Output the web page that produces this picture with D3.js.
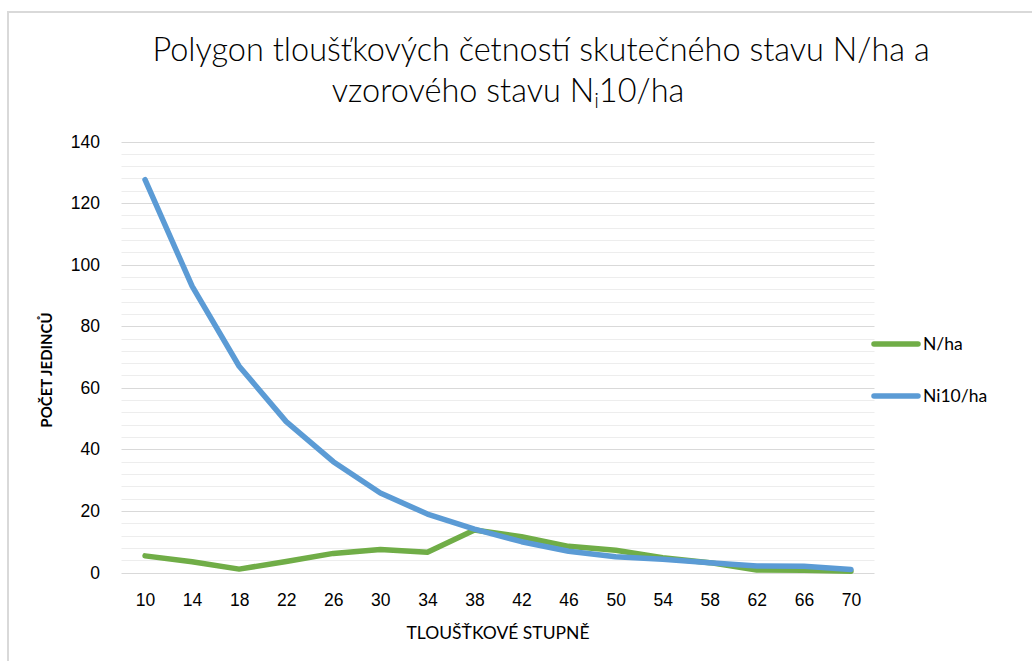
<!DOCTYPE html>
<html>
<head>
<meta charset="utf-8">
<script src="https://cdn.jsdelivr.net/npm/d3@7"></script>
<style>
  body { margin: 0; background: #fff; }
  svg { display: block; font-family: Lato, "Open Sans", sans-serif; }
  .tick text { fill: #000; font-size: 17.5px; }
  .grid-major { stroke: #d9d9d9; stroke-width: 1.2; }
  .grid-minor { stroke: #ededed; stroke-width: 1.2; }
</style>
</head>
<body>
<div id="chart"></div>
<script>
// tloušťkové stupně (cm)
var categories = ["10", "14", "18", "22", "26", "30", "34", "38", "42", "46", "50", "54", "58", "62", "66", "70"];
// skutečný stav N/ha
var nha = [5.4, 3.5, 1.1, 3.6, 6.2, 7.5, 6.6, 13.8, 11.6, 8.5, 7.2, 4.8, 3.2, 0.8, 0.7, 0.4];
// vzorový stav Ni10/ha
var ni10ha = [127.6, 93, 67, 49, 36, 25.8, 19, 14.1, 10, 6.9, 5.1, 4.3, 3.2, 2.1, 2.0, 1.0];
var yTicks = [0, 20, 40, 60, 80, 100, 120, 140];

var width = 1032, height = 661;

var svg = d3.select("#chart")
    .append("svg")
        .attr("width", width)
        .attr("height", height);

// chart border (only left/top visible in the frame)
svg.append("rect")
    .attr("x", 8).attr("y", 12)
    .attr("width", 1100).attr("height", 700)
    .attr("fill", "none")
    .attr("stroke", "#d9d9d9")
    .attr("stroke-width", 2);

var x = d3.scalePoint()
    .domain(categories)
    .range([121.5, 874.5])
    .padding(0.5);

var y = d3.scaleLinear()
    .domain([0, 140])
    .range([572.5, 141.5]);

// minor gridlines every 4
var minor = d3.range(0, 141, 4).filter(function(v){ return v % 20 != 0; });
svg.append("g").selectAll("line")
    .data(minor)
    .enter().append("line")
        .attr("class", "grid-minor")
        .attr("x1", 121.5).attr("x2", 874.5)
        .attr("y1", function(d){ return Math.round(y(d)) + 0.5; })
        .attr("y2", function(d){ return Math.round(y(d)) + 0.5; });

svg.append("g").selectAll("line")
    .data(yTicks)
    .enter().append("line")
        .attr("class", "grid-major")
        .attr("x1", 121.5).attr("x2", 874.5)
        .attr("y1", function(d){ return Math.round(y(d)) + 0.5; })
        .attr("y2", function(d){ return Math.round(y(d)) + 0.5; });

// axes
var yAxis = svg.append("g")
    .attr("transform", "translate(104,0)")
    .call(d3.axisLeft(y).tickValues(yTicks).tickSize(0).tickPadding(4));
yAxis.select(".domain").remove();

var xAxis = svg.append("g")
    .attr("transform", "translate(0,590)")
    .call(d3.axisBottom(x).tickSize(0).tickPadding(4));
xAxis.select(".domain").remove();

// lines
var line = d3.line()
    .x(function(d, i){ return x(categories[i]); })
    .y(function(d){ return y(d); });

svg.append("path")
    .datum(nha)
    .attr("d", line)
    .attr("fill", "none")
    .attr("stroke", "#70ad47")
    .attr("stroke-width", 5.5)
    .attr("stroke-linecap", "round")
    .attr("stroke-linejoin", "round");

svg.append("path")
    .datum(ni10ha)
    .attr("d", line)
    .attr("fill", "none")
    .attr("stroke", "#5b9bd5")
    .attr("stroke-width", 5.5)
    .attr("stroke-linecap", "round")
    .attr("stroke-linejoin", "round");

// title
svg.append("text")
    .attr("x", 541).attr("y", 61)
    .attr("text-anchor", "middle")
    .style("font-size", "32.5px")
    .style("font-weight", 300)
    .style("fill", "#000")
    .text("Polygon tloušťkových četností skutečného stavu N/ha a");

var t2 = svg.append("text")
    .attr("x", 508).attr("y", 102)
    .attr("text-anchor", "middle")
    .style("font-size", "32.5px")
    .style("font-weight", 300)
    .style("fill", "#000");
t2.append("tspan").text("vzorového stavu N");
t2.append("tspan").attr("dy", 6).style("font-size", "21px").text("i");
t2.append("tspan").attr("dy", -6).text("10/ha");

// axis titles
svg.append("text")
    .attr("transform", "translate(52,370) rotate(-90)")
    .attr("text-anchor", "middle")
    .style("font-size", "15px")
    .style("font-weight", "bold")
    .text("POČET JEDINCŮ");

svg.append("text")
    .attr("x", 498).attr("y", 639)
    .attr("text-anchor", "middle")
    .style("font-size", "17.5px")
    .text("TLOUŠŤKOVÉ STUPNĚ");

// legend
var legend = [
    {name: "N/ha", color: "#70ad47", y: 344},
    {name: "Ni10/ha", color: "#5b9bd5", y: 396}
];
var lg = svg.append("g").selectAll("g")
    .data(legend)
    .enter().append("g");
lg.append("line")
    .attr("x1", 874).attr("x2", 918)
    .attr("y1", function(d){ return d.y; })
    .attr("y2", function(d){ return d.y; })
    .attr("stroke", function(d){ return d.color; })
    .attr("stroke-width", 5.5)
    .attr("stroke-linecap", "round");
lg.append("text")
    .attr("x", 923)
    .attr("y", function(d){ return d.y + 6; })
    .style("font-size", "17.5px")
    .text(function(d){ return d.name; });
</script>
</body>
</html>
